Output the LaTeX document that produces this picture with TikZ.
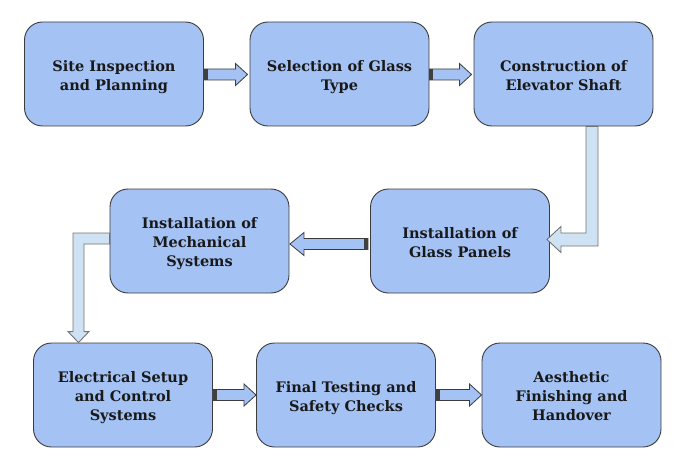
\documentclass[tikz,border=0pt]{standalone}
\usepackage{fontspec}
\setmainfont{DejaVu Serif}
\usetikzlibrary{calc}
\definecolor{boxblue}{HTML}{A4C2F4}
\definecolor{elbowblue}{HTML}{CFE2F3}
\definecolor{edgegray}{HTML}{3C3C3C}
\newcommand{\lbl}[1]{\raisebox{-3pt}[\height][\depth]{\begin{tabular}{@{}c@{}}#1\end{tabular}}}
\tikzset{
  stepbox/.style={draw=edgegray, line width=0.9pt, fill=boxblue, rounded corners=18pt,
    minimum width=179pt, minimum height=104pt, align=center,
    font=\fontsize{14.5}{19}\selectfont\bfseries, text=black!90},
  barrow/.style={draw=edgegray, line width=0.8pt, fill=boxblue, line join=miter},
  earrow/.style={draw=black!55, line width=0.9pt, fill=elbowblue, line join=miter},
  tailband/.style={fill=black!75}
}
\newcommand{\rarrow}[2]{%
  \draw[barrow] let \p1=(#1), \p2=(#2) in
    (\x1,\y1+5.5pt) -- (\x2-12pt,\y1+5.5pt) -- (\x2-12pt,\y1+11pt) -- (\x2,\y1)
    -- (\x2-12pt,\y1-11pt) -- (\x2-12pt,\y1-5.5pt) -- (\x1,\y1-5.5pt) -- cycle;
  \fill[tailband] let \p1=(#1) in (\x1,\y1-5.5pt) rectangle (\x1+4pt,\y1+5.5pt);
}
\newcommand{\larrow}[2]{%
  \draw[barrow] let \p1=(#1), \p2=(#2) in
    (\x1,\y1+5.5pt) -- (\x2+14pt,\y1+5.5pt) -- (\x2+14pt,\y1+11.5pt) -- (\x2,\y1)
    -- (\x2+14pt,\y1-11.5pt) -- (\x2+14pt,\y1-5.5pt) -- (\x1,\y1-5.5pt) -- cycle;
  \fill[tailband] let \p1=(#1) in (\x1-4pt,\y1-5.5pt) rectangle (\x1,\y1+5.5pt);
}
\begin{document}
\begin{tikzpicture}[x=1pt,y=1pt]
\useasboundingbox (0,0) rectangle (679,-473);
\node[stepbox] (b1) at (114,-74) {\lbl{Site Inspection\\and Planning}};
\node[stepbox] (b2) at (339.5,-74) {\lbl{Selection of Glass\\Type}};
\node[stepbox] (b3) at (563.5,-74) {\lbl{Construction of\\Elevator Shaft}};
\node[stepbox] (b4) at (460,-241) {\lbl{Installation of\\Glass Panels}};
\node[stepbox] (b5) at (199.5,-241) {\lbl{Installation of\\Mechanical\\Systems}};
\node[stepbox] (b6) at (123,-395) {\lbl{Electrical Setup\\and Control\\Systems}};
\node[stepbox] (b7) at (346,-395) {\lbl{Final Testing and\\Safety Checks}};
\node[stepbox] (b8) at (571.5,-395) {\lbl{Aesthetic\\Finishing and\\Handover}};

\rarrow{$(b1.east)+(0,-0.5)$}{$(b2.west)+(-2,-0.5)$}
\rarrow{$(b2.east)+(0,-0.5)$}{$(b3.west)+(-2,-0.5)$}
\larrow{$(b4.west)+(-2,-3)$}{$(b5.east)+(0.5,-3)$}
\rarrow{$(b6.east)+(0,0)$}{$(b7.west)+(0,0)$}
\rarrow{$(b7.east)+(0,0)$}{$(b8.west)+(0,0)$}

% elbow: b3 -> b4
\draw[earrow] let \p1=($(b3.south)+(28.5,0)$), \p2=($(b4.east)+(-3,1.5)$) in
  (\x1-6pt,\y1) -- (\x1+6pt,\y1) -- (\x1+6pt,\y2-6.5pt) -- (\x2+14pt,\y2-6.5pt)
  -- (\x2+14pt,\y2-13pt) -- (\x2,\y2) -- (\x2+14pt,\y2+13pt) -- (\x2+14pt,\y2+6.5pt)
  -- (\x1-6pt,\y2+6.5pt) -- cycle;
% elbow: b5 -> b6
\draw[earrow] let \p1=($(b5.west)+(0,2.5)$), \p2=($(b6.north)+(-44.5,0)$) in
  (\x1,\y1+5.5pt) -- (\x2-5.5pt,\y1+5.5pt) -- (\x2-5.5pt,\y2+11pt) -- (\x2-10.5pt,\y2+11pt)
  -- (\x2,\y2) -- (\x2+10.5pt,\y2+11pt) -- (\x2+5.5pt,\y2+11pt) -- (\x2+5.5pt,\y1-5.5pt)
  -- (\x1,\y1-5.5pt) -- cycle;
\end{tikzpicture}
\end{document}
